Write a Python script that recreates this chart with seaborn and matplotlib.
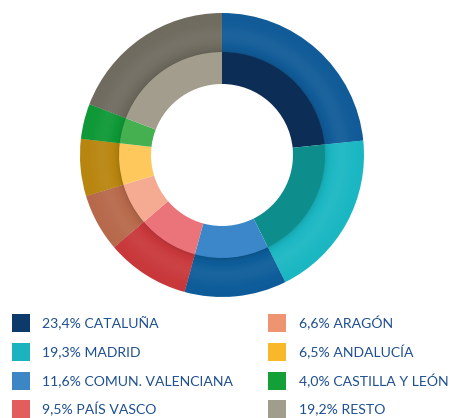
import matplotlib
matplotlib.use("Agg")
import matplotlib.pyplot as plt
import seaborn as sns
import numpy as np
from matplotlib.colors import to_rgb
from matplotlib.patches import Rectangle
from matplotlib import font_manager

sns.set_style("white")
names = {f.name for f in font_manager.fontManager.ttflist}
if "Liberation Sans Narrow" in names:
    fam, fsize = "Liberation Sans Narrow", 11.5
else:
    fam, fsize = "Lato", 10.1
plt.rcParams['font.family'] = [fam, 'DejaVu Sans']

regions = ["CATALUÑA", "MADRID", "COMUN. VALENCIANA", "PAÍS VASCO",
           "ARAGÓN", "ANDALUCÍA", "CASTILLA Y LEÓN", "RESTO"]
shares = [23.4, 19.3, 11.6, 9.5, 6.6, 6.5, 4.0, 19.2]
share_labels = ["23,4%", "19,3%", "11,6%", "9,5%", "6,6%", "6,5%", "4,0%", "19,2%"]

legend_colors = ["#0b3a6b", "#1bb3bf", "#3d86c6", "#e35d5f",
                 "#ef9470", "#f8b82a", "#13a038", "#a19d8c"]
inner_colors = ["#0c2d55", "#0d8e8c", "#3b87c9", "#ea7479",
                "#f5ab92", "#fec85d", "#44b04f", "#a29d8c"]
outer_colors = ["#105b98", "#1ab7c2", "#0d5c99", "#c8383b",
                "#b7694b", "#b8850f", "#0e9836", "#6f6b5f"]

W, H = 451, 418
fig = plt.figure(figsize=(W / 100, H / 100), dpi=100)

cx, cy, R = 222, 155, 142
ax = fig.add_axes([(cx - R) / W, (H - cy - R) / H, 2 * R / W, 2 * R / H])
ax.set_aspect("equal")
ax.axis("off")


def shade(c, f):
    r = np.array(to_rgb(c))
    if f >= 0:
        return tuple(r + (1 - r) * f)
    return tuple(r * (1 + f))


r_in, r_mid, r_out = 0.50, 0.725, 1.0
# outer ring: soft bevel, slightly darker right at its inner edge
n = 24
edges = np.linspace(r_mid, r_out, n + 1)
for k in range(n):
    t = (k + 0.5) / n
    f = -0.16 * np.exp(-t / 0.08) + 0.05 * np.exp(-((t - 0.45) / 0.25) ** 2)
    ax.pie(shares, radius=edges[k + 1],
           colors=[shade(c, f) for c in outer_colors],
           startangle=90, counterclock=False,
           wedgeprops=dict(width=edges[k + 1] - edges[k] + 0.006, linewidth=0))
ax.pie(shares, radius=r_mid, colors=inner_colors,
       startangle=90, counterclock=False,
       wedgeprops=dict(width=r_mid - r_in, linewidth=0))
ax.set_xlim(-1, 1)
ax.set_ylim(-1, 1)

# legend
text_color = "#1d4f91"
col_sq_x = [12, 268]
col_tx_x = [42, 299]
row_y = [323, 352, 381, 409]
sq = 18
for i, (lab, pct, col) in enumerate(zip(regions, share_labels, legend_colors)):
    c, r = divmod(i, 4)
    x0 = col_sq_x[c]
    y0 = row_y[r]
    fig.add_artist(Rectangle((x0 / W, (H - y0 - sq / 2) / H), sq / W, sq / H,
                             transform=fig.transFigure, facecolor=col,
                             edgecolor="none"))
    fig.text(col_tx_x[c] / W, (H - y0) / H, f"{pct} {lab}", color=text_color,
             fontsize=fsize, va="center", ha="left")

fig.savefig("out.png", dpi=100, facecolor="white")
